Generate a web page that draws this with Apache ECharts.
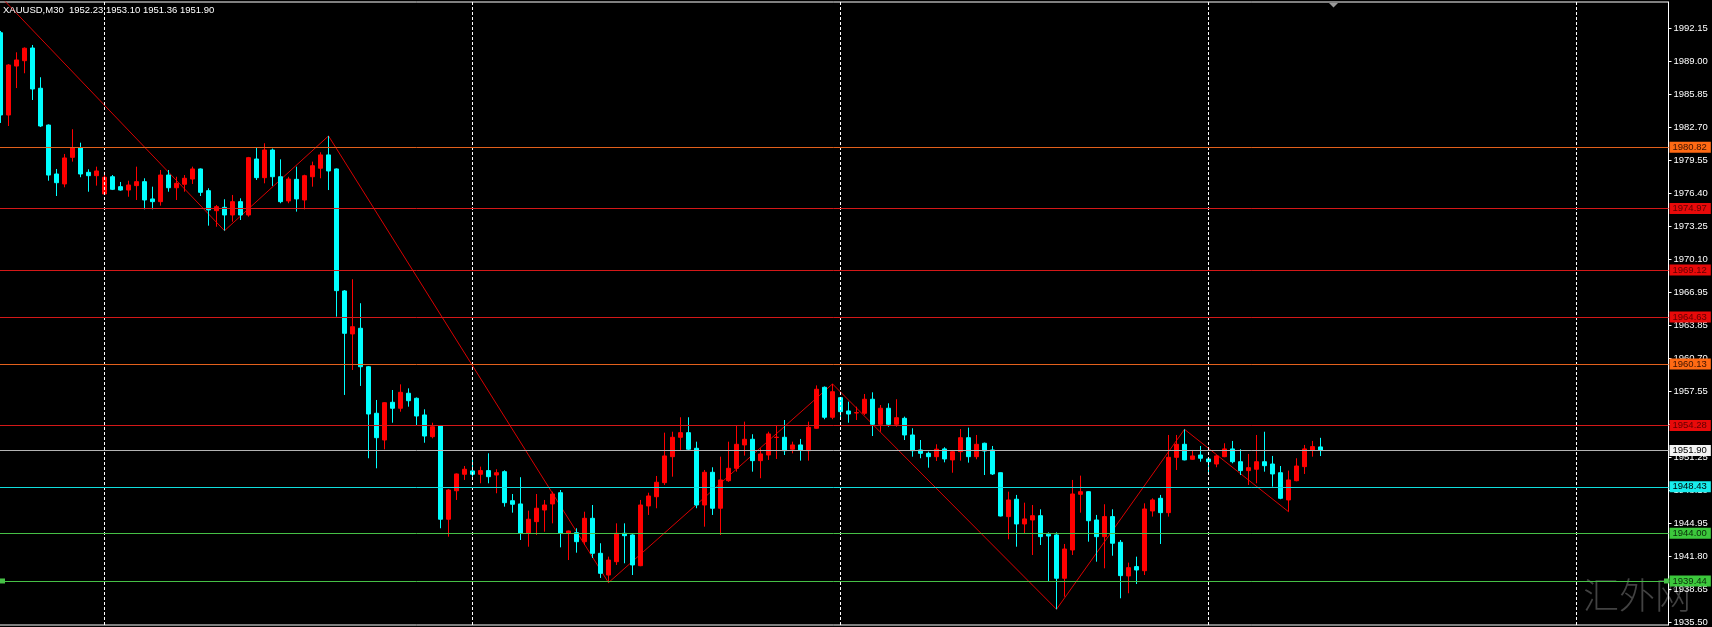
<!DOCTYPE html>
<html>
<head>
<meta charset="utf-8">
<title>XAUUSD M30</title>
<script src="https://cdn.jsdelivr.net/npm/echarts@6/dist/echarts.min.js"></script>
<style>
  html, body { margin: 0; padding: 0; background: #000; }
  #chart { width: 1712px; height: 627px; }
</style>
</head>
<body>
<div id="chart"></div>
<script>
// Instrument header
const symbolName = 'XAUUSD';
const period = 'M30';

// 30-minute bars, each row is [open, close, low, high]
const bars = [
  [1991.75, 1983.90, 1983.14, 1991.92], [1983.90, 1988.67, 1982.85, 1988.75], [1988.57, 1989.15, 1986.47, 1989.88], [1989.08, 1990.27, 1987.88, 1990.35],
  [1990.29, 1986.38, 1985.33, 1990.58], [1986.45, 1982.85, 1982.75, 1987.50], [1982.94, 1978.17, 1977.63, 1983.00], [1978.27, 1977.44, 1976.17, 1978.75],
  [1977.32, 1979.80, 1977.00, 1980.18], [1979.86, 1980.78, 1979.45, 1982.54], [1980.78, 1978.27, 1977.96, 1981.26], [1978.43, 1978.11, 1976.58, 1978.72],
  [1978.11, 1978.56, 1977.16, 1978.97], [1976.36, 1977.96, 1976.30, 1978.49], [1978.01, 1976.81, 1976.74, 1978.17], [1977.06, 1976.74, 1976.68, 1977.51],
  [1976.74, 1977.22, 1976.10, 1977.63], [1977.16, 1977.54, 1975.79, 1978.97], [1977.54, 1975.79, 1974.90, 1977.86], [1975.89, 1975.63, 1974.90, 1977.06],
  [1975.63, 1978.17, 1975.25, 1978.65], [1978.17, 1976.96, 1976.58, 1978.65], [1976.96, 1977.38, 1975.79, 1978.01], [1977.29, 1977.86, 1976.58, 1978.17],
  [1977.79, 1978.75, 1977.32, 1978.97], [1978.75, 1976.52, 1976.17, 1978.80], [1976.68, 1974.84, 1973.34, 1976.91], [1974.77, 1975.15, 1973.24, 1975.31],
  [1975.09, 1974.36, 1972.86, 1975.86], [1974.36, 1975.63, 1973.72, 1976.27], [1975.63, 1974.36, 1973.88, 1975.95], [1974.36, 1979.83, 1974.20, 1979.90],
  [1979.70, 1977.92, 1977.70, 1980.78], [1977.92, 1980.56, 1977.38, 1981.20], [1980.56, 1978.01, 1977.13, 1980.70], [1978.01, 1975.63, 1975.48, 1979.67],
  [1975.70, 1977.79, 1975.48, 1978.00], [1977.76, 1975.89, 1974.68, 1978.97], [1975.79, 1978.11, 1974.90, 1978.20], [1978.01, 1979.06, 1977.06, 1979.45],
  [1978.82, 1980.09, 1977.86, 1980.34], [1980.09, 1978.56, 1976.74, 1981.90], [1978.75, 1967.14, 1964.66, 1978.80], [1967.11, 1963.07, 1957.19, 1967.20],
  [1963.01, 1963.70, 1959.57, 1968.23], [1963.55, 1959.88, 1958.05, 1965.94], [1959.88, 1955.37, 1951.15, 1959.95], [1955.44, 1953.11, 1950.19, 1956.71],
  [1952.89, 1956.45, 1952.00, 1956.50], [1956.49, 1955.92, 1954.54, 1957.66], [1955.92, 1957.44, 1955.59, 1958.20], [1957.35, 1956.64, 1956.07, 1957.82],
  [1956.87, 1955.18, 1954.32, 1956.95], [1955.28, 1953.27, 1952.63, 1955.82], [1953.21, 1954.16, 1953.05, 1954.54], [1954.23, 1945.33, 1944.47, 1954.30],
  [1945.33, 1948.12, 1943.67, 1948.20], [1948.05, 1949.65, 1947.17, 1949.70], [1949.62, 1950.10, 1949.08, 1950.41], [1949.94, 1949.62, 1949.39, 1951.15],
  [1949.62, 1949.97, 1948.76, 1950.35], [1949.97, 1949.39, 1948.76, 1951.62], [1949.55, 1949.77, 1947.81, 1950.10], [1949.87, 1946.91, 1946.53, 1950.00],
  [1947.10, 1946.76, 1945.96, 1947.74], [1946.79, 1943.99, 1943.35, 1949.34], [1943.99, 1945.33, 1942.71, 1946.15], [1945.10, 1946.38, 1943.83, 1947.74],
  [1946.21, 1946.69, 1944.14, 1947.17], [1946.79, 1947.74, 1944.94, 1947.96], [1947.86, 1943.99, 1942.65, 1948.12], [1943.99, 1944.21, 1941.44, 1944.25],
  [1944.05, 1943.19, 1942.14, 1944.47], [1943.19, 1945.42, 1942.87, 1946.05], [1945.42, 1942.08, 1941.63, 1946.69], [1942.08, 1940.17, 1939.73, 1943.04],
  [1940.01, 1941.44, 1939.28, 1941.76], [1941.28, 1943.99, 1940.97, 1944.94], [1943.99, 1943.76, 1941.13, 1944.94], [1943.83, 1940.97, 1940.01, 1943.90],
  [1940.90, 1946.69, 1940.85, 1947.17], [1946.60, 1947.55, 1945.74, 1947.86], [1947.48, 1948.86, 1946.38, 1949.46], [1948.82, 1951.37, 1948.60, 1953.59],
  [1951.30, 1953.15, 1949.39, 1953.68], [1953.15, 1953.59, 1951.94, 1955.06], [1953.59, 1952.01, 1951.90, 1955.06], [1952.10, 1946.69, 1946.38, 1952.73],
  [1946.69, 1949.81, 1944.62, 1950.03], [1949.81, 1946.38, 1945.74, 1950.29], [1946.38, 1949.08, 1943.83, 1951.30], [1949.01, 1950.19, 1948.90, 1952.73],
  [1950.19, 1952.48, 1949.87, 1954.32], [1952.42, 1952.96, 1951.40, 1954.64], [1952.96, 1950.92, 1949.87, 1953.44], [1950.92, 1951.56, 1949.24, 1952.10],
  [1951.46, 1953.47, 1950.99, 1953.68], [1953.13, 1953.16, 1951.08, 1954.32], [1953.15, 1951.87, 1951.46, 1954.80], [1952.01, 1952.42, 1951.62, 1952.73],
  [1952.42, 1951.94, 1950.92, 1952.99], [1951.87, 1954.10, 1950.92, 1954.64], [1954.01, 1957.73, 1953.95, 1958.10], [1957.92, 1955.06, 1954.87, 1958.00],
  [1955.06, 1957.50, 1954.87, 1958.24], [1956.93, 1955.59, 1954.96, 1957.00], [1955.66, 1955.37, 1954.54, 1956.55], [1955.47, 1955.50, 1954.80, 1956.07],
  [1955.44, 1956.78, 1955.28, 1957.28], [1956.78, 1954.39, 1953.27, 1957.44], [1954.39, 1955.92, 1953.68, 1956.23], [1955.92, 1954.39, 1954.16, 1956.39],
  [1954.39, 1955.02, 1954.16, 1956.78], [1954.96, 1953.37, 1952.89, 1955.12], [1953.37, 1951.87, 1951.30, 1954.01], [1951.94, 1951.62, 1951.15, 1952.89],
  [1951.62, 1951.30, 1950.25, 1951.78], [1951.30, 1952.01, 1950.89, 1952.48], [1952.04, 1951.08, 1950.76, 1952.20], [1950.99, 1951.78, 1949.77, 1951.94],
  [1951.78, 1953.11, 1950.92, 1953.94], [1953.11, 1951.30, 1950.73, 1954.07], [1951.30, 1952.48, 1951.05, 1953.37], [1952.58, 1951.84, 1949.55, 1952.64],
  [1951.94, 1949.65, 1949.55, 1952.32], [1949.77, 1945.64, 1945.60, 1949.80], [1945.58, 1947.17, 1943.42, 1947.96], [1947.24, 1944.88, 1942.71, 1947.65],
  [1944.88, 1945.36, 1943.99, 1946.91], [1945.26, 1945.67, 1941.92, 1946.69], [1945.67, 1943.67, 1942.87, 1946.28], [1943.89, 1943.73, 1939.44, 1944.08],
  [1943.83, 1939.70, 1936.74, 1944.08], [1939.70, 1942.49, 1937.94, 1942.97], [1942.40, 1947.74, 1941.92, 1949.08], [1947.71, 1947.96, 1945.96, 1949.49],
  [1947.96, 1945.19, 1943.19, 1948.00], [1945.26, 1943.67, 1941.28, 1945.74], [1943.67, 1945.58, 1940.65, 1946.76], [1945.58, 1943.04, 1941.85, 1946.28],
  [1943.13, 1939.95, 1937.79, 1943.35], [1939.92, 1940.71, 1938.27, 1941.19], [1940.81, 1940.49, 1939.15, 1941.76], [1940.42, 1946.31, 1940.01, 1946.85],
  [1946.12, 1947.17, 1945.58, 1947.33], [1947.33, 1945.96, 1942.97, 1947.65], [1945.96, 1951.24, 1945.58, 1953.37], [1951.24, 1952.48, 1950.03, 1953.37],
  [1952.48, 1950.99, 1950.95, 1953.91], [1951.05, 1951.37, 1951.00, 1951.94], [1951.46, 1951.15, 1950.82, 1952.32], [1951.08, 1950.82, 1949.77, 1951.10],
  [1950.60, 1951.37, 1950.29, 1951.46], [1951.30, 1952.04, 1951.25, 1952.58], [1952.04, 1950.82, 1950.67, 1952.80], [1950.82, 1949.97, 1949.55, 1952.01],
  [1949.97, 1950.25, 1948.60, 1951.56], [1950.10, 1950.82, 1948.76, 1953.37], [1950.82, 1950.44, 1949.87, 1953.68], [1950.60, 1949.65, 1948.44, 1951.37],
  [1949.77, 1947.33, 1947.24, 1950.41], [1947.17, 1949.08, 1946.05, 1949.97], [1949.01, 1950.41, 1948.95, 1951.15], [1950.35, 1952.04, 1949.65, 1952.42],
  [1951.94, 1952.26, 1951.30, 1952.80], [1952.23, 1951.90, 1951.36, 1953.10]
];

// ZigZag swing points: [bar index, 'H' for the bar high / 'L' for the bar low]
const zigzagEntry = 1995.20;   // where the first leg enters at bar 0
const zigzagPivots = [[28, 'L'], [41, 'H'], [76, 'L'], [104, 'H'], [132, 'L'], [148, 'H'], [161, 'L']];

// Horizontal price levels and their kind; the last one is the selected (anchored) level
const levelPrices = [1980.82, 1974.97, 1969.12, 1964.63, 1960.13, 1954.28, 1951.90, 1948.43, 1944.00, 1939.44];
const levelKinds  = ['orange', 'red', 'red', 'red', 'orange', 'red', 'bid', 'cyan', 'green', 'green'];

// Price scale tick labels
const yTicks = [1992.15, 1989.00, 1985.85, 1982.70, 1979.55, 1976.40, 1973.25, 1970.10, 1966.95,
                1963.85, 1960.70, 1957.55, 1954.40, 1951.25, 1948.10, 1944.95, 1941.80, 1938.65, 1935.50];

// Visible price window
const priceMin = 1935.24;
const priceMax = 1994.68;

// ---- styling ----
const UP = '#ff0000';
const DOWN = '#00ffff';
const FONT = 'Liberation Sans';
const kindStyle = {
  orange: { line: '#e2601c', bg: '#ff6a14', text: '#3c1200' },
  red:    { line: '#d41818', bg: '#e80a0a', text: '#600000' },
  bid:    { line: '#b4b4b4', bg: '#f4f4f4', text: '#000000' },
  cyan:   { line: '#10dede', bg: '#18ecec', text: '#000000' },
  green:  { line: '#46c046', bg: '#3cc83c', text: '#0a2a0a' }
};

const slotCount = 209;                // bar slots across the plot, incl. empty right margin
const categories = Array.from({ length: slotCount }, (_, i) => String(i));
const separatorStart = 13, separatorStep = 46;

const zigzagData = [[0, zigzagEntry]].concat(
  zigzagPivots.map(([i, t]) => [i, t === 'H' ? bars[i][3] : bars[i][2]])
);

const separators = [];
for (let i = separatorStart; i < slotCount; i += separatorStep) {
  separators.push({
    xAxis: i,
    lineStyle: { color: '#ffffff', type: [3, 2], width: 1 },
    label: { show: false }
  });
}

function levelItem(p, kind) {
  const s = kindStyle[kind];
  return {
    yAxis: p,
    lineStyle: { color: s.line, type: 'solid', width: 1 },
    label: {
      show: true,
      position: 'end',
      distance: 1,
      formatter: () => p.toFixed(2),
      backgroundColor: s.bg,
      color: s.text,
      fontFamily: FONT,
      fontSize: 9.5,
      lineHeight: 10,
      padding: [1, 4, 0, 3]
    }
  };
}

const lastLevel = levelPrices.length - 1;
const plainLevels = levelPrices.slice(0, lastLevel).map((p, k) => levelItem(p, levelKinds[k]));
const anchoredLevel = levelItem(levelPrices[lastLevel], levelKinds[lastLevel]);

const last = bars[bars.length - 1];
const headerText = symbolName + ',' + period + '  ' +
  [last[0], last[3], last[2], last[1]].map(v => v.toFixed(2)).join(' ');

const chart = echarts.init(document.getElementById('chart'), null, { renderer: 'canvas' });
chart.setOption({
  backgroundColor: '#000000',
  animation: false,
  title: {
    text: headerText,
    left: 3,
    top: 5,
    padding: 0,
    textStyle: { color: '#ffffff', fontSize: 9.5, fontWeight: 'normal', fontFamily: FONT }
  },
  grid: {
    left: -3.5,
    right: 43.5,
    top: 2,
    bottom: 2,
    containLabel: false,
    outerBoundsMode: 'none',
    show: true,
    borderColor: '#ffffff',
    borderWidth: 1,
    backgroundColor: 'transparent'
  },
  xAxis: {
    type: 'category',
    data: categories,
    boundaryGap: true,
    axisLine: { show: false },
    axisTick: { show: false },
    axisLabel: { show: false },
    splitLine: { show: false }
  },
  yAxis: {
    type: 'value',
    position: 'right',
    min: priceMin,
    max: priceMax,
    scale: true,
    axisLine: { show: true, lineStyle: { color: '#ffffff', width: 1 } },
    axisTick: { show: true, length: 3, customValues: yTicks, lineStyle: { color: '#ffffff' } },
    axisLabel: {
      show: true,
      customValues: yTicks,
      color: '#ffffff',
      fontFamily: FONT,
      fontSize: 9.5,
      margin: 5,
      formatter: v => v.toFixed(2)
    },
    splitLine: { show: false }
  },
  series: [
    {
      name: 'ZigZag',
      type: 'line',
      data: zigzagData,
      symbol: 'none',
      z: 1,
      silent: true,
      lineStyle: { color: '#d80000', width: 1 },
      // selected horizontal level, with its two grab handles
      markLine: {
        silent: true,
        animation: false,
        symbol: ['rect', 'rect'],
        symbolSize: 5,
        symbolRotate: 0,
        symbolOffset: [[6, 0], [-2, 0]],
        data: [anchoredLevel]
      }
    },
    {
      name: symbolName,
      type: 'candlestick',
      data: bars,
      barWidth: 4,
      z: 2,
      silent: true,
      itemStyle: {
        color: UP,
        color0: DOWN,
        borderColor: UP,
        borderColor0: DOWN,
        borderWidth: 1
      },
      markLine: {
        silent: true,
        symbol: ['none', 'none'],
        animation: false,
        data: separators.concat(plainLevels)
      }
    }
  ],
  graphic: [
    {
      type: 'polygon',
      shape: { points: [[1329, 3], [1338, 3], [1333.5, 7.5]] },
      style: { fill: '#9a9a9a' },
      z: 100
    },
    {
      type: 'text',
      left: 1583,
      top: 577,
      style: {
        text: '汇外网',
        font: '300 36px "Noto Sans CJK SC"',
        fill: 'rgba(120,120,120,0.55)'
      },
      z: 0
    }
  ]
});
</script>
</body>
</html>
